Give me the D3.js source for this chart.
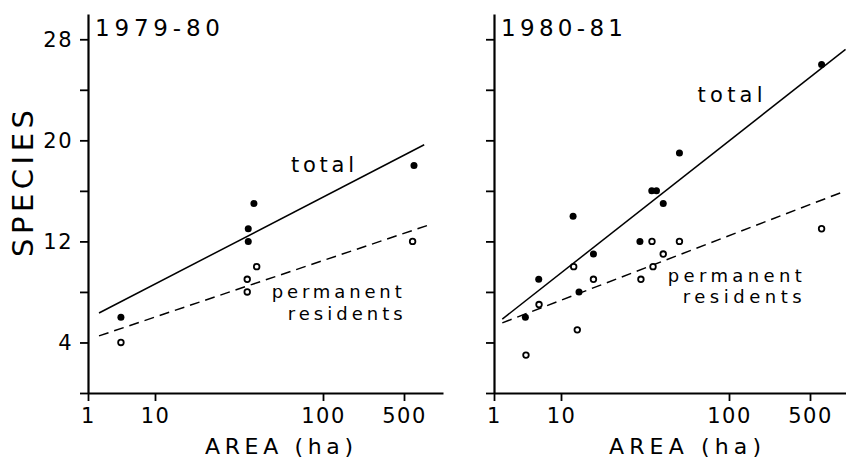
<!DOCTYPE html>
<html>
<head>
<meta charset="utf-8">
<script src="https://cdn.jsdelivr.net/npm/d3@7"></script>
<style>
  html, body { margin: 0; padding: 0; background: #fff; }
  svg { display: block; }
  text { font-family: "DejaVu Sans", sans-serif; fill: #000; }
</style>
</head>
<body>
<svg id="chart" width="846" height="460"></svg>
<script>
// ---------------- DATA ----------------
const panelTitles = ["1979-80", "1980-81"];

// 1979-80
const areaTotal7980    = [3.1, 35.9, 35.9, 38.8, 612];
const speciesTotal7980 = [6, 13, 12, 15, 18];
const areaPerm7980     = [3.1, 35.4, 35.4, 40.3, 595];
const speciesPerm7980  = [4, 9, 8, 10, 12];
const fitArea7980      = [1.46, 752];
const fitTotal7980     = [6.33, 19.65];
const fitAreaP7980     = [1.46, 891];
const fitPerm7980      = [4.52, 13.4];

// 1980-81
const areaTotal8081    = [2.94, 4.65, 11.8, 12.8, 15.6, 29.5, 34.7, 37.0, 40.6, 50.7, 632];
const speciesTotal8081 = [6, 9, 14, 8, 11, 12, 16, 16, 15, 19, 26];
const areaPerm8081     = [3.0, 4.7, 11.9, 12.5, 15.6, 29.9, 34.8, 35.3, 40.6, 50.7, 632];
const speciesPerm8081  = [3, 7, 10, 5, 9, 9, 12, 10, 11, 12, 13];
const fitArea8081      = [1.33, 1026];
const fitTotal8081     = [5.85, 27.2];
const fitAreaP8081     = [1.33, 1026];
const fitPerm8081      = [5.55, 16.0];

// axes
const xTickValues = [1, 10, 100, 500];
const xTickLabels = ["1", "10", "100", "500"];
const yTickValues = [0, 4, 8, 12, 16, 20, 24, 28];
const yLabelled   = [4, 12, 20, 28];
const xAxisTitle  = "AREA (ha)";
const yAxisTitle  = "SPECIES";
const lineLabelTotal = "total";
const lineLabelPerm  = ["permanent", "residents"];

// ---------------- LAYOUT ----------------
const svg = d3.select("#chart");
const W = 846, H = 460;
svg.append("rect").attr("width", W).attr("height", H).attr("fill", "#fff");

const y = d3.scaleLinear().domain([0, 30]).range([393, 14]);

// the original's area axis is logarithmic but its decades are unevenly spaced
const xDomainBreaks = [1, 10, 100, 500, 1100];
const xRangeBreaks  = [0, 67, 235, 316, 355];

const panels = [
  {
    x0: 88, title: panelTitles[0], titleW: 125, showYLabels: true,
    total: areaTotal7980.map((a, i) => ({a, s: speciesTotal7980[i]})),
    perm: areaPerm7980.map((a, i) => ({a, s: speciesPerm7980[i]})),
    fitT: fitArea7980.map((a, i) => ({a, s: fitTotal7980[i]})),
    fitP: fitAreaP7980.map((a, i) => ({a, s: fitPerm7980[i]})),
    labT: {a: 64.5, s: 17.5, w: 63},
    labP1: {a: 49.5, s: 7.49, w: 130},
    labP2: {a: 61.6, s: 5.77, w: 115},
    xTitleW: 148
  },
  {
    x0: 494, title: panelTitles[1], titleW: 122, showYLabels: false,
    total: areaTotal8081.map((a, i) => ({a, s: speciesTotal8081[i]})),
    perm: areaPerm8081.map((a, i) => ({a, s: speciesPerm8081[i]})),
    fitT: fitArea8081.map((a, i) => ({a, s: fitTotal8081[i]})),
    fitP: fitAreaP8081.map((a, i) => ({a, s: fitPerm8081[i]})),
    labT: {a: 65, s: 23.04, w: 65},
    labP1: {a: 43.2, s: 8.8, w: 134},
    labP2: {a: 53, s: 7.09, w: 119},
    xTitleW: 152
  }
];

panels.forEach(p => {
  const x = d3.scaleLog().domain(xDomainBreaks)
    .range(xRangeBreaks.map(v => p.x0 + v));

  const g = svg.append("g");

  // Y axis
  const yAxis = d3.axisLeft(y)
    .tickValues(yTickValues)
    .tickSize(8).tickSizeOuter(0).tickPadding(7)
    .tickFormat(d => (p.showYLabels && yLabelled.includes(d)) ? String(d) : "");
  const ya = g.append("g").attr("transform", `translate(${p.x0},0)`).call(yAxis);

  // X axis
  const xAxis = d3.axisBottom(x)
    .tickValues(xTickValues)
    .tickSize(8).tickSizeOuter(0).tickPadding(7)
    .tickFormat((d, i) => xTickLabels[i]);
  const xa = g.append("g").attr("transform", `translate(0,${y(0)})`).call(xAxis);

  [ya, xa].forEach(a => {
    a.attr("font-family", null).attr("font-size", null);
    a.selectAll("path.domain").attr("stroke", "#000").attr("stroke-width", 2.2);
    a.selectAll(".tick line").attr("stroke", "#000").attr("stroke-width", 1.8);
    a.selectAll(".tick text")
      .attr("font-size", 21).style("font-size", "21px")
      .style("letter-spacing", "1.5px").attr("fill", "#000");
  });

  // fitted lines
  const line = d3.line().x(d => x(d.a)).y(d => y(d.s));
  g.append("path").datum(p.fitT).attr("d", line)
    .attr("fill", "none").attr("stroke", "#000").attr("stroke-width", 1.5);
  g.append("path").datum(p.fitP).attr("d", line)
    .attr("fill", "none").attr("stroke", "#000").attr("stroke-width", 1.5)
    .attr("stroke-dasharray", "10,6");

  // points
  g.selectAll("circle.tot").data(p.total).join("circle")
    .attr("class", "tot")
    .attr("cx", d => x(d.a)).attr("cy", d => y(d.s))
    .attr("r", 3.5).attr("fill", "#000");
  g.selectAll("circle.perm").data(p.perm).join("circle")
    .attr("class", "perm")
    .attr("cx", d => x(d.a)).attr("cy", d => y(d.s))
    .attr("r", 2.8).attr("fill", "#fff").attr("stroke", "#000").attr("stroke-width", 1.8);

  // line labels
  g.append("text")
    .attr("x", x(p.labT.a)).attr("y", y(p.labT.s))
    .attr("textLength", p.labT.w).attr("lengthAdjust", "spacing")
    .style("font-size", "21px").text(lineLabelTotal);
  [p.labP1, p.labP2].forEach((o, i) => {
    g.append("text")
      .attr("x", x(o.a)).attr("y", y(o.s))
      .attr("textLength", o.w).attr("lengthAdjust", "spacing")
      .style("font-size", "18px")
      .text(lineLabelPerm[i]);
  });

  // panel title
  g.append("text")
    .attr("x", p.x0 + 7).attr("y", 36)
    .attr("textLength", p.titleW).attr("lengthAdjust", "spacing")
    .style("font-size", "23px").text(p.title);

  // x axis title
  g.append("text")
    .attr("x", p.x0 + 191 - p.xTitleW / 2).attr("y", 454)
    .attr("textLength", p.xTitleW).attr("lengthAdjust", "spacing")
    .style("font-size", "22px").text(xAxisTitle);
});

// y axis title
svg.append("text")
  .attr("transform", "translate(33,183.5) rotate(-90)")
  .attr("text-anchor", "middle")
  .attr("textLength", 147).attr("lengthAdjust", "spacing")
  .style("font-size", "29px").text(yAxisTitle);
</script>
</body>
</html>
